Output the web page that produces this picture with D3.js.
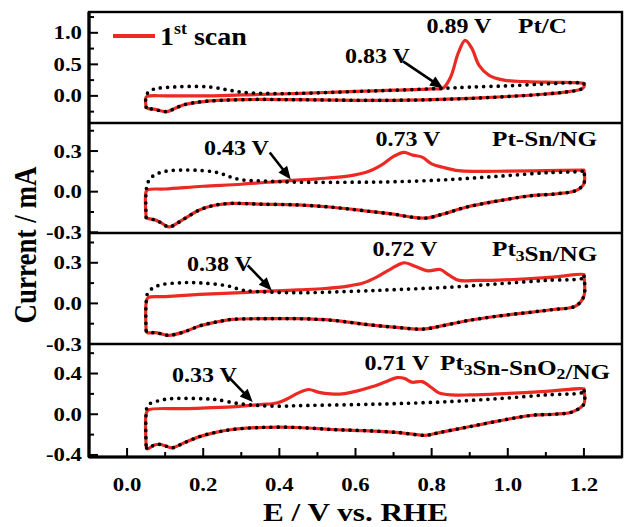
<!DOCTYPE html>
<html><head><meta charset="utf-8">
<script src="https://cdn.jsdelivr.net/npm/d3@7"></script>
<style>html,body{margin:0;padding:0;background:#fff;} svg{display:block;}</style>
</head><body>
<svg id="chart" width="624" height="527"></svg>
<script>
// ---------------- DATA ----------------
const xTicks = [0.0, 0.2, 0.4, 0.6, 0.8, 1.0, 1.2];
const xTickLabels = ["0.0", "0.2", "0.4", "0.6", "0.8", "1.0", "1.2"];
const xMinorTicks = [0.1, 0.3, 0.5, 0.7, 0.9, 1.1];
const xDomain = [-0.1, 1.3];

const panelNames = ["Pt/C", "Pt-Sn/NG", "Pt_3Sn/NG", "Pt_3Sn-SnO_2/NG"];
const peakLabels = ["0.89 V", "0.73 V", "0.72 V", "0.71 V"];
const onsetLabels = ["0.83 V", "0.43 V", "0.38 V", "0.33 V"];
const onsetPotential = [0.83, 0.43, 0.38, 0.33];
const onsetCurrent = [0.12, 0.09, 0.096, 0.12];

const yDomains = [[-0.43, 1.33], [-0.305, 0.507], [-0.3, 0.52], [-0.42, 0.69]];
const yMajorTicks = [[0.0, 0.5, 1.0], [-0.3, 0.0, 0.3], [-0.3, 0.0, 0.3], [-0.4, 0.0, 0.4]];
const yTickLabels = [["0.0", "0.5", "1.0"], ["-0.3", "0.0", "0.3"], ["-0.3", "0.0", "0.3"], ["-0.4", "0.0", "0.4"]];
const yMinorTicks = [[-0.25, 0.25, 0.75, 1.25], [-0.15, 0.15, 0.45], [-0.15, 0.15, 0.45], [-0.2, 0.2, 0.6]];

// Pt/C  [E (V), I (mA)]
const ptcAnodicFirst = [[0.05,-0.18],[0.05,-0.02],[0.06,0.0],[0.1,0.0],[0.2,0.0],[0.3,0.015],[0.4,0.03],[0.5,0.05],[0.6,0.07],[0.7,0.09],[0.8,0.11],[0.83,0.125],[0.85,0.3],[0.87,0.68],[0.888,0.88],[0.905,0.76],[0.925,0.48],[0.95,0.33],[0.99,0.25],[1.05,0.225],[1.12,0.215],[1.18,0.21],[1.2,0.2]];
const ptcAnodicLater = [[0.05,-0.18],[0.05,0.0],[0.06,0.08],[0.08,0.12],[0.12,0.14],[0.17,0.15],[0.22,0.14],[0.26,0.1],[0.3,0.06],[0.36,0.04],[0.45,0.04],[0.6,0.07],[0.7,0.09],[0.83,0.12],[0.9,0.14],[1.0,0.16],[1.1,0.19],[1.18,0.21],[1.2,0.2]];
const ptcCathodic = [[1.2,0.2],[1.2,0.14],[1.19,0.1],[1.15,0.06],[1.1,0.03],[1.0,-0.01],[0.9,-0.04],[0.8,-0.06],[0.7,-0.07],[0.6,-0.07],[0.45,-0.06],[0.3,-0.06],[0.2,-0.09],[0.15,-0.14],[0.125,-0.2],[0.105,-0.25],[0.09,-0.24],[0.07,-0.21],[0.055,-0.2],[0.05,-0.18]];

// Pt-Sn/NG
const ptsnAnodicFirst = [[0.05,-0.19],[0.05,0.0],[0.055,0.015],[0.1,0.02],[0.2,0.04],[0.3,0.055],[0.42,0.08],[0.5,0.095],[0.58,0.115],[0.63,0.145],[0.67,0.2],[0.7,0.26],[0.727,0.29],[0.75,0.27],[0.775,0.255],[0.8,0.205],[0.83,0.18],[0.87,0.155],[0.92,0.15],[1.0,0.152],[1.1,0.155],[1.2,0.16]];
const ptsnAnodicLater = [[0.05,-0.19],[0.05,0.0],[0.055,0.07],[0.07,0.12],[0.1,0.15],[0.15,0.16],[0.2,0.155],[0.24,0.14],[0.27,0.11],[0.3,0.088],[0.35,0.08],[0.45,0.07],[0.6,0.07],[0.71,0.074],[0.85,0.09],[0.98,0.115],[1.1,0.14],[1.2,0.155]];
const ptsnCathodic = [[1.2,0.16],[1.2,0.06],[1.18,0.01],[1.13,-0.015],[1.06,-0.03],[0.97,-0.07],[0.89,-0.115],[0.83,-0.165],[0.785,-0.195],[0.74,-0.185],[0.71,-0.17],[0.62,-0.14],[0.54,-0.115],[0.45,-0.098],[0.35,-0.092],[0.276,-0.086],[0.23,-0.1],[0.19,-0.135],[0.15,-0.2],[0.11,-0.26],[0.09,-0.23],[0.075,-0.21],[0.053,-0.196],[0.05,-0.19]];

// Pt3Sn/NG
const pt3snAnodicFirst = [[0.05,-0.2],[0.05,0.0],[0.055,0.042],[0.1,0.05],[0.19,0.066],[0.3,0.08],[0.372,0.09],[0.45,0.1],[0.52,0.11],[0.58,0.128],[0.62,0.15],[0.653,0.19],[0.69,0.25],[0.727,0.3],[0.76,0.27],[0.79,0.24],[0.823,0.25],[0.845,0.21],[0.872,0.17],[0.92,0.17],[0.976,0.172],[1.1,0.19],[1.2,0.214]];
const pt3snAnodicLater = [[0.05,-0.2],[0.05,0.0],[0.055,0.08],[0.08,0.13],[0.144,0.153],[0.2,0.15],[0.267,0.128],[0.3,0.1],[0.328,0.09],[0.45,0.079],[0.6,0.09],[0.713,0.103],[0.85,0.12],[0.976,0.145],[1.1,0.17],[1.2,0.19]];
const pt3snCathodic = [[1.2,0.21],[1.2,0.054],[1.178,-0.02],[1.12,-0.045],[1.064,-0.064],[0.97,-0.095],[0.889,-0.13],[0.82,-0.17],[0.775,-0.19],[0.7,-0.175],[0.626,-0.155],[0.54,-0.125],[0.45,-0.113],[0.35,-0.113],[0.276,-0.118],[0.23,-0.14],[0.19,-0.167],[0.15,-0.21],[0.11,-0.236],[0.09,-0.225],[0.075,-0.216],[0.053,-0.216],[0.05,-0.2]];

// Pt3Sn-SnO2/NG
const pt3snoAnodicFirst = [[0.05,-0.3],[0.05,0.0],[0.055,0.04],[0.15,0.055],[0.276,0.072],[0.35,0.095],[0.393,0.11],[0.42,0.15],[0.45,0.21],[0.477,0.243],[0.504,0.215],[0.535,0.2],[0.565,0.2],[0.6,0.225],[0.643,0.27],[0.68,0.32],[0.709,0.36],[0.73,0.35],[0.748,0.315],[0.775,0.32],[0.8,0.26],[0.819,0.21],[0.854,0.19],[0.9,0.19],[0.976,0.2],[1.1,0.225],[1.2,0.25]];
const pt3snoAnodicLater = [[0.05,-0.3],[0.05,0.0],[0.055,0.09],[0.08,0.13],[0.118,0.154],[0.2,0.152],[0.232,0.145],[0.293,0.105],[0.35,0.085],[0.407,0.079],[0.45,0.085],[0.6,0.095],[0.713,0.105],[0.85,0.125],[0.976,0.154],[1.1,0.19],[1.2,0.22]];
const pt3snoCathodic = [[1.2,0.245],[1.2,0.1],[1.169,0.023],[1.12,0.0],[1.064,-0.01],[0.97,-0.07],[0.889,-0.13],[0.82,-0.18],[0.784,-0.207],[0.714,-0.18],[0.62,-0.16],[0.539,-0.15],[0.45,-0.13],[0.35,-0.13],[0.276,-0.15],[0.23,-0.18],[0.19,-0.22],[0.15,-0.28],[0.118,-0.33],[0.1,-0.31],[0.085,-0.295],[0.07,-0.305],[0.053,-0.34],[0.05,-0.3]];

const firstScans = [ptcAnodicFirst, ptsnAnodicFirst, pt3snAnodicFirst, pt3snoAnodicFirst];
const laterScans = [ptcAnodicLater, ptsnAnodicLater, pt3snAnodicLater, pt3snoAnodicLater];
const cathodicScans = [ptcCathodic, ptsnCathodic, pt3snCathodic, pt3snoCathodic];

const legendLabel = ["1", "st", " scan"];
const xTitle = "E / V vs. RHE";
const yTitle = "Current / mA";

// ---------------- LAYOUT ----------------
const FONT = "'Liberation Serif','Times New Roman',Times,serif";
const SX = 1.2;           // horizontal stretch of the original figure's text
const RED = "#ec2922";
const left = 89, right = 622;
const bands = [[12, 123], [123, 233], [233, 344], [344, 457]];
const svg = d3.select("#chart");
const x = d3.scaleLinear().domain(xDomain).range([left, right]);

function txt(parent, px, py, anchor, size, str) {
  const g = parent.append("g").attr("transform", `translate(${px},${py}) scale(${SX},1)`);
  const t = g.append("text").attr("text-anchor", anchor).attr("font-family", FONT)
    .attr("font-weight", "bold").attr("font-size", size).attr("fill", "#000");
  const parts = str.split(/_(\d)/);
  parts.forEach((p, i) => {
    if (!p) return;
    if (i % 2 === 1) {
      t.append("tspan").attr("font-size", size * 0.7).attr("dy", size * 0.22).text(p);
      t.append("tspan").attr("dy", -size * 0.22).text("");
    } else t.append("tspan").text(p);
  });
  return t;
}

function arrow(parent, x1, y1, x2, y2) {
  const a = Math.atan2(y2 - y1, x2 - x1), hl = 13, hw = 5.5;
  const bx = x2 - hl * Math.cos(a), by = y2 - hl * Math.sin(a);
  parent.append("line").attr("x1", x1).attr("y1", y1).attr("x2", bx + 2 * Math.cos(a)).attr("y2", by + 2 * Math.sin(a))
    .attr("stroke", "#000").attr("stroke-width", 2.6);
  const px = -Math.sin(a) * hw, py = Math.cos(a) * hw;
  parent.append("polygon").attr("points", `${x2},${y2} ${bx + px},${by + py} ${bx - px},${by - py}`).attr("fill", "#000");
}

const arrowOffsets = [[-40, -27], [-21, -27], [-24, -25], [-24, -25]];
const peakPos = [[459, 33], [408, 146], [405, 256], [397, 370]];
const namePos = [[518, 33], [492, 146], [492, 256], [440, 370]];
const onsetPos = [[345, 63], [204, 155], [187, 271], [172, 382]];

bands.forEach((b, i) => {
  const y = d3.scaleLinear().domain(yDomains[i]).range([b[1], b[0]]);
  const g = svg.append("g");
  const clipId = "clip" + i;
  svg.append("clipPath").attr("id", clipId).append("rect").attr("x", left).attr("y", b[0]).attr("width", right - left).attr("height", b[1] - b[0]);
  const line = d3.line().x(d => x(d[0])).y(d => y(d[1])).curve(d3.curveCatmullRom.alpha(0.5));
  const cg = g.append("g").attr("clip-path", `url(#${clipId})`);
  cg.append("path").attr("d", line(firstScans[i].concat(cathodicScans[i]))).attr("fill", "none")
    .attr("stroke", RED).attr("stroke-width", 3.2).attr("stroke-linejoin", "round");
  cg.append("path").attr("d", line(laterScans[i].concat(cathodicScans[i]))).attr("fill", "none")
    .attr("stroke", "#000").attr("stroke-width", 3.7).attr("stroke-linecap", "round").attr("stroke-dasharray", "0,7.2");

  // y ticks (inward)
  yMajorTicks[i].forEach((v, k) => {
    g.append("line").attr("x1", left).attr("x2", left + 9).attr("y1", y(v)).attr("y2", y(v)).attr("stroke", "#000").attr("stroke-width", 2);
    txt(g, 82, y(v) + 6.5, "end", 19, yTickLabels[i][k]);
  });
  yMinorTicks[i].forEach(v => {
    if (y(v) < b[0] || y(v) > b[1]) return;
    g.append("line").attr("x1", left).attr("x2", left + 5).attr("y1", y(v)).attr("y2", y(v)).attr("stroke", "#000").attr("stroke-width", 2);
  });

  // annotations
  txt(g, peakPos[i][0], peakPos[i][1], "middle", 20, peakLabels[i]);
  txt(g, namePos[i][0], namePos[i][1], "start", 21, panelNames[i]);
  txt(g, onsetPos[i][0], onsetPos[i][1], "start", 20, onsetLabels[i]);
  const tx = x(onsetPotential[i]), ty = y(onsetCurrent[i]);
  arrow(g, tx + arrowOffsets[i][0], ty + arrowOffsets[i][1], tx, ty);
});

// frame and separators
svg.append("rect").attr("x", left).attr("y", bands[0][0]).attr("width", right - left).attr("height", bands[3][1] - bands[0][0])
  .attr("fill", "none").attr("stroke", "#000").attr("stroke-width", 2.4);
bands.slice(0, 3).forEach(b => {
  svg.append("line").attr("x1", left).attr("x2", right).attr("y1", b[1]).attr("y2", b[1]).attr("stroke", "#000").attr("stroke-width", 2.4);
});
svg.append("line").attr("x1", left).attr("x2", left).attr("y1", bands[0][0]).attr("y2", bands[3][1]).attr("stroke", "#000").attr("stroke-width", 3.2);
svg.append("line").attr("x1", left).attr("x2", right).attr("y1", bands[3][1]).attr("y2", bands[3][1]).attr("stroke", "#000").attr("stroke-width", 3.2);

// x ticks (inward) and labels
const yb = bands[3][1];
xTicks.forEach((v, k) => {
  svg.append("line").attr("x1", x(v)).attr("x2", x(v)).attr("y1", yb).attr("y2", yb - 9).attr("stroke", "#000").attr("stroke-width", 2);
  txt(svg, x(v), 491, "middle", 19, xTickLabels[k]);
});
xMinorTicks.forEach(v => {
  svg.append("line").attr("x1", x(v)).attr("x2", x(v)).attr("y1", yb).attr("y2", yb - 5).attr("stroke", "#000").attr("stroke-width", 2);
});

// axis titles
txt(svg, x(0.6), 521, "middle", 26, xTitle);
const yg = svg.append("g").attr("transform", `translate(36,245) scale(${SX},1) rotate(-90)`);
yg.append("text").attr("text-anchor", "middle").attr("font-family", FONT).attr("font-weight", "bold")
  .attr("font-size", 27).text(yTitle);

// legend
svg.append("line").attr("x1", 113).attr("x2", 155).attr("y1", 36).attr("y2", 36).attr("stroke", RED).attr("stroke-width", 4);
const lg = svg.append("g").attr("transform", `translate(160,45) scale(1.12,1)`);
const lt = lg.append("text").attr("font-family", FONT).attr("font-weight", "bold").attr("font-size", 25);
lt.append("tspan").text(legendLabel[0]);
lt.append("tspan").attr("font-size", 16).attr("dy", -11).text(legendLabel[1]);
lt.append("tspan").attr("dy", 11).text(legendLabel[2]);
</script>
</body></html>
